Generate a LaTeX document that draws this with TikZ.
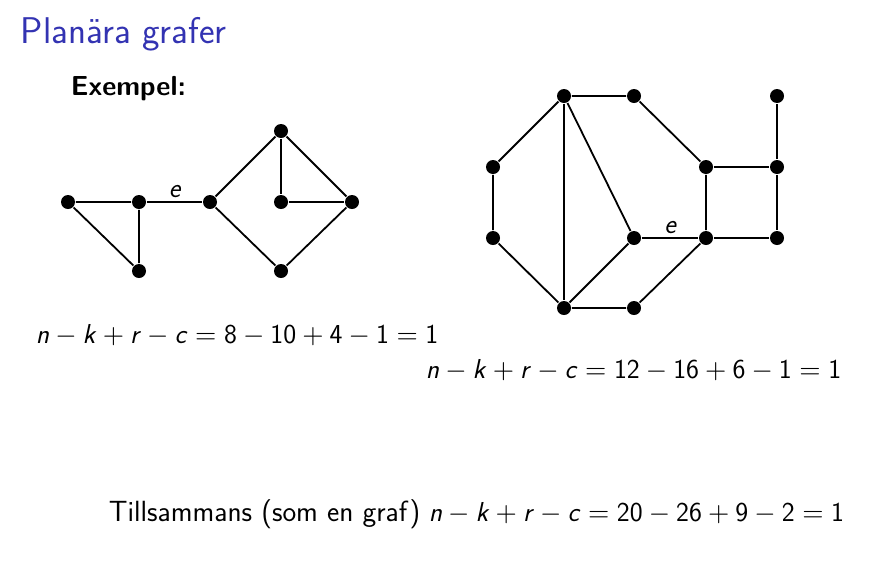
\documentclass[tikz,border=0pt]{standalone}
\DeclareFontShape{OT1}{cmr}{m}{n}{<->cmr10}{}
\DeclareFontFamily{OMS}{cmsy}{\skewchar\font48 }
\DeclareFontShape{OMS}{cmsy}{m}{n}{<->cmsy10}{}
\definecolor{titleblue}{RGB}{51,51,178}
\newcommand{\mv}[1]{\textit{#1}}
\newcommand{\op}[1]{${}#1{}$}

\tikzset{
  vertex/.style={circle, fill=black, inner sep=0pt, minimum size=14pt},
  txt/.style={font=\fontsize{27.4}{32}\selectfont\sffamily, anchor=base west, inner sep=0pt},
  elabel/.style={font=\fontsize{27.5}{32}\selectfont\sffamily\itshape, above, inner sep=3pt}
}

\begin{document}
\begin{tikzpicture}[x=1pt, y=-1pt, line width=1.8pt]
    \useasboundingbox (0,0) rectangle (894,587);
    % Below nodes are the labels.
        \node[txt, font=\fontsize{37.2}{42}\selectfont\sffamily, text=titleblue] (title) at (20,43) {Planära grafer};
        \node[txt, font=\fontsize{27.5}{32}\selectfont\sffamily\bfseries] (ex) at (70,95) {Exempel:};
    % Left graph.
        \node[vertex] (a1) at (68,202) {};
        \node[vertex] (a2) at (139,202) {};
        \node[vertex] (a3) at (139,271) {};
        \node[vertex] (a4) at (210,202) {};
        \node[vertex] (a5) at (281,131) {};
        \node[vertex] (a6) at (281,202) {};
        \node[vertex] (a7) at (352,202) {};
        \node[vertex] (a8) at (281,271) {};
        \draw (a1) -- (a2) -- (a3) -- (a1);
        \draw (a2) -- node[elabel] (e1) {e} (a4);
        \draw (a4) -- (a5) -- (a7) -- (a8) -- (a4);
        \draw (a5) -- (a6) -- (a7);
    % Right graph.
        \node[vertex] (b1) at (564,96) {};
        \node[vertex] (b2) at (634,96) {};
        \node[vertex] (b3) at (706,167) {};
        \node[vertex] (b4) at (777,96) {};
        \node[vertex] (b5) at (777,167) {};
        \node[vertex] (b6) at (493,167) {};
        \node[vertex] (b7) at (493,238) {};
        \node[vertex] (b8) at (634,238) {};
        \node[vertex] (b9) at (706,238) {};
        \node[vertex] (b10) at (777,238) {};
        \node[vertex] (b11) at (564,308) {};
        \node[vertex] (b12) at (634,308) {};
        \draw (b2) -- (b1) -- (b6) -- (b7) -- (b11) -- (b12) -- (b9) -- (b3) -- (b2);
        \draw (b1) -- (b11);
        \draw (b1) -- (b8) -- (b11);
        \draw (b8) -- node[elabel] (e2) {e} (b9);
        \draw (b3) -- (b5) -- (b4);
        \draw (b5) -- (b10) -- (b9);
    % Formulas.
        \node[txt] (f1) at (35,343) {\mv{n}\op-\mv{k}\op+\mv{r}\op-\mv{c}\op=8\op-10\op+4\op-1\op=1};
        \node[txt] (f2) at (425,378) {\mv{n}\op-\mv{k}\op+\mv{r}\op-\mv{c}\op=12\op-16\op+6\op-1\op=1};
        \node[txt, anchor=base east] (f3) at (845,521) {\fontsize{29.2}{32}\selectfont Tillsammans (som en graf)\fontsize{27.4}{32}\selectfont{} \mv{n}\op-\mv{k}\op+\mv{r}\op-\mv{c}\op=20\op-26\op+9\op-2\op=1};
\end{tikzpicture}
\end{document}
